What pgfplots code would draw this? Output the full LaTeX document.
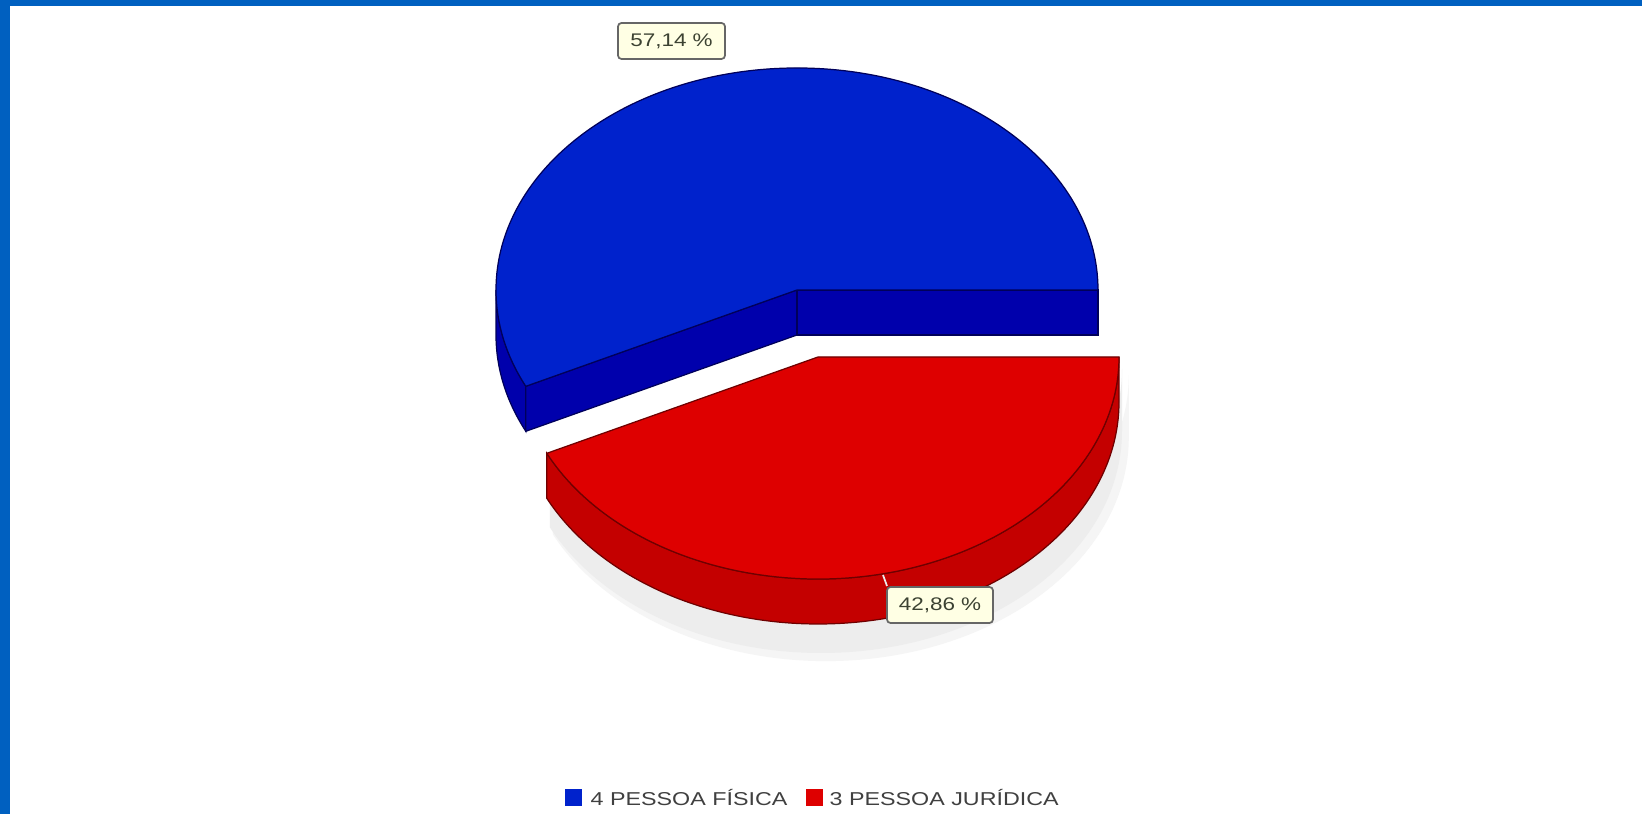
\documentclass[border=0pt]{standalone}
\usepackage{fontspec}
\setmainfont{Liberation Sans}
\newfontfamily\labfont[FakeStretch=1.23]{Liberation Sans}
\newfontfamily\legfont[FakeStretch=1.25]{Liberation Sans}
\usepackage{pgfplots}
\pgfplotsset{compat=1.18}
\definecolor{frameblue}{RGB}{0,96,192}
\definecolor{topblue}{RGB}{0,34,204}
\definecolor{sideblue}{RGB}{0,0,172}
\definecolor{edgeblue}{RGB}{0,0,90}
\definecolor{topred}{RGB}{222,0,0}
\definecolor{sidered}{RGB}{196,0,0}
\definecolor{edgered}{RGB}{110,0,0}
\definecolor{tipfill}{RGB}{255,255,228}
\definecolor{tiptext}{RGB}{60,66,50}
\begin{document}
\begin{tikzpicture}
% data: counts per category
\def\nA{4}% PESSOA FISICA
\def\nB{3}% PESSOA JURIDICA
\pgfmathsetmacro\th{360*\nA/(\nA+\nB)}
\pgfmathsetmacro\px{3.01*cos(\th)}
\pgfmathsetmacro\py{2.22*sin(\th)}
\begin{axis}[width=16.42cm,height=8.14cm,scale only axis,
  xmin=0,xmax=1642,ymin=0,ymax=814,hide axis,clip=false]
% background and frame
\fill[white] (axis cs:0,0) rectangle (axis cs:1642,814);
\fill[frameblue] (axis cs:0,808) rectangle (axis cs:1642,814);
\fill[frameblue] (axis cs:0,0) rectangle (axis cs:10,814);
% shadow under red slice
\fill[black!4] (axis cs:824,438) ++(\px cm,\py cm) arc[start angle=\th,end angle=360,x radius=3.03cm,y radius=2.24cm] -- ++(0,-0.62cm) arc[start angle=360,end angle=\th,x radius=3.03cm,y radius=2.24cm] -- cycle;
\fill[black!7] (axis cs:821,445) ++(\px cm,\py cm) arc[start angle=\th,end angle=360,x radius=3.01cm,y radius=2.22cm] -- ++(0,-0.62cm) arc[start angle=360,end angle=\th,x radius=3.01cm,y radius=2.22cm] -- cycle;
% red slice (exploded)
\filldraw[fill=sidered,draw=edgered,line width=0.35pt] (axis cs:818,457) ++(\px cm,\py cm) arc[start angle=\th,end angle=360,x radius=3.01cm,y radius=2.22cm] -- ++(0,-0.45cm) arc[start angle=360,end angle=\th,x radius=3.01cm,y radius=2.22cm] -- cycle;
\filldraw[fill=topred,draw=edgered,line width=0.35pt] (axis cs:818,457) -- ++(\px cm,\py cm) arc[start angle=\th,end angle=360,x radius=3.01cm,y radius=2.22cm] -- cycle;
% blue slice
\filldraw[fill=sideblue,draw=edgeblue,line width=0.35pt] (axis cs:797,524) ++(-3.01cm,0) arc[start angle=180,end angle=\th,x radius=3.01cm,y radius=2.22cm] -- ++(0,-0.45cm) arc[start angle=\th,end angle=180,x radius=3.01cm,y radius=2.22cm] -- cycle;
\filldraw[fill=sideblue,draw=edgeblue,line width=0.35pt] (axis cs:797,524) -- ++(\px cm,\py cm) -- ++(0,-0.45cm) -- ++(-\px cm,-\py cm) -- cycle;
\filldraw[fill=sideblue,draw=edgeblue,line width=0.35pt] (axis cs:797,524) -- ++(3.01cm,0) -- ++(0,-0.45cm) -- ++(-3.01cm,0) -- cycle;
\filldraw[fill=topblue,draw=edgeblue,line width=0.35pt] (axis cs:797,524) -- ++(3.01cm,0) arc[start angle=0,end angle=\th,x radius=3.01cm,y radius=2.22cm] -- cycle;
% value labels
\draw[white!85!gray,line width=0.5pt] (axis cs:883,239) -- (axis cs:887,228);
\node[draw=black!60,fill=tipfill,rounded corners=1pt,line width=0.5pt,minimum width=1.07cm,minimum height=0.36cm,inner sep=0pt,text=tiptext,font=\labfont\fontsize{5.2}{6}\selectfont] at (axis cs:671.5,773) {57,14 \%};
\node[draw=black!60,fill=tipfill,rounded corners=1pt,line width=0.5pt,minimum width=1.06cm,minimum height=0.36cm,inner sep=0pt,text=tiptext,font=\labfont\fontsize{5.2}{6}\selectfont] at (axis cs:940,209) {42,86 \%};
% legend
\fill[topblue] (axis cs:565,8) rectangle (axis cs:582,25);
\fill[topred] (axis cs:806,8) rectangle (axis cs:823,25);
\node[anchor=west,inner sep=0pt,text=black!75,font=\legfont\fontsize{5.3}{6}\selectfont] at (axis cs:590,16.5) {4 PESSOA FÍSICA};
\node[anchor=west,inner sep=0pt,text=black!75,font=\legfont\fontsize{5.3}{6}\selectfont] at (axis cs:829,16.5) {3 PESSOA JURÍDICA};
\end{axis}
\end{tikzpicture}
\end{document}
